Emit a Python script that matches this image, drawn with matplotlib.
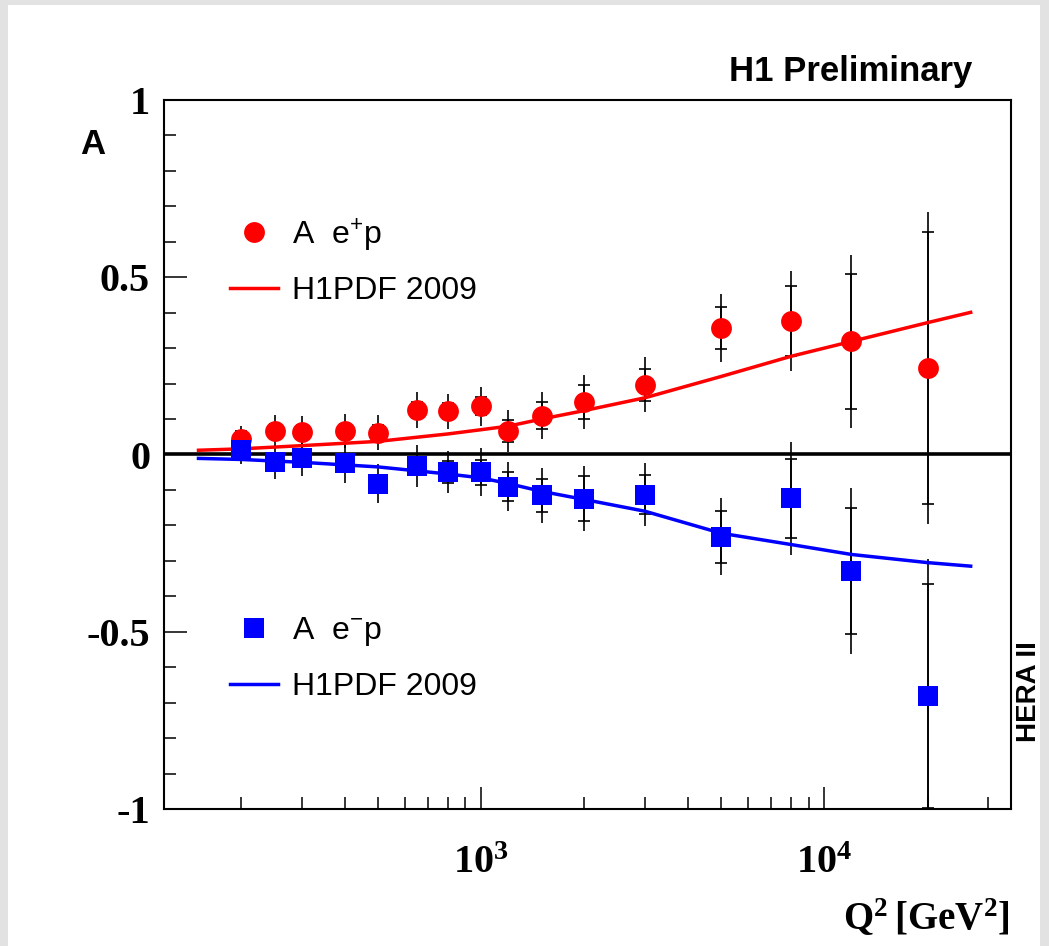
import numpy as np
import matplotlib
matplotlib.use("Agg")
import matplotlib.pyplot as plt
from matplotlib.patches import Rectangle
from matplotlib.ticker import LogLocator, FuncFormatter, MultipleLocator, NullFormatter

plt.rcParams['mathtext.fontset'] = 'custom'
plt.rcParams['mathtext.rm'] = 'Liberation Sans'
plt.rcParams['mathtext.bf'] = 'Liberation Serif:bold'
plt.rcParams['axes.unicode_minus'] = False

# measured points (Q2 in GeV^2)
q2 = [200, 250, 300, 400, 500, 650, 800, 1000, 1200, 1500, 2000, 3000, 5000, 8000, 12000, 20000]

# e+p asymmetry
pos_a = [0.045, 0.066, 0.063, 0.066, 0.062, 0.125, 0.122, 0.136, 0.066, 0.11, 0.148, 0.197, 0.357, 0.377, 0.319, 0.244]
pos_tot = [0.035, 0.045, 0.045, 0.047, 0.05, 0.05, 0.05, 0.055, 0.06, 0.065, 0.077, 0.077, 0.095, 0.142, 0.245, 0.44]
pos_stat = [0.02, 0.02, 0.02, 0.02, 0.02, 0.022, 0.022, 0.025, 0.03, 0.039, 0.047, 0.045, 0.06, 0.099, 0.19, 0.383]

# e-p asymmetry
neg_a = [0.014, -0.021, -0.011, -0.025, -0.082, -0.033, -0.049, -0.05, -0.091, -0.115, -0.125, -0.113, -0.232, -0.124, -0.329, -0.682]
neg_tot = [0.04, 0.047, 0.05, 0.054, 0.056, 0.06, 0.06, 0.067, 0.069, 0.078, 0.092, 0.09, 0.108, 0.16, 0.235, 0.386]
neg_stat = [0.02, 0.02, 0.02, 0.02, 0.02, 0.022, 0.031, 0.035, 0.041, 0.047, 0.063, 0.055, 0.073, 0.112, 0.177, 0.316]

# H1PDF 2009 predictions
curve_q2 = [150, 200, 300, 500, 800, 1000, 1200, 1500, 2000, 3000, 5000, 8000, 12000, 20000, 26700]
pos_curve = [0.012, 0.016, 0.025, 0.037, 0.058, 0.07, 0.08, 0.10, 0.124, 0.16, 0.22, 0.277, 0.319, 0.372, 0.401]
neg_curve = [-0.011, -0.014, -0.022, -0.035, -0.055, -0.066, -0.082, -0.104, -0.127, -0.16, -0.222, -0.254, -0.282, -0.305, -0.315]

yticks = [-1, -0.5, 0, 0.5, 1]
ytick_labels = ['-1', '-0.5', '0', '0.5', '1']

W, H = 1049, 946
fig = plt.figure(figsize=(W / 100, H / 100), dpi=100, facecolor='#e2e2e2')
fig.patches.append(Rectangle((8 / W, 0), (1040 - 8) / W, (H - 5) / H,
                             transform=fig.transFigure, facecolor='white',
                             edgecolor='none', zorder=-5))

ax = fig.add_axes([164 / W, 1 - 809 / H, (1011 - 164) / W, (809 - 100) / H])
ax.set_zorder(2)
ax.set_xscale('log')
ax.set_xlim(119, 35000)
ax.set_ylim(-1, 1)

ax.axhline(0, color='black', lw=2.6, zorder=1)

ax.errorbar(q2, pos_a, yerr=pos_tot, fmt='none', ecolor='black', elinewidth=1.2, capsize=0, zorder=2)
ax.errorbar(q2, pos_a, yerr=pos_stat, fmt='none', ecolor='black', elinewidth=1.2, capsize=4, capthick=1.2, zorder=2)
ax.errorbar(q2, neg_a, yerr=neg_tot, fmt='none', ecolor='black', elinewidth=1.2, capsize=0, zorder=2)
ax.errorbar(q2, neg_a, yerr=neg_stat, fmt='none', ecolor='black', elinewidth=1.2, capsize=4, capthick=1.2, zorder=2)

pos_pts, = ax.plot(q2, pos_a, 'o', color='#ff0000', markersize=15, markeredgewidth=0, zorder=3)
neg_pts, = ax.plot(q2, neg_a, 's', color='#0000ff', markersize=14, markeredgewidth=0, zorder=3)
pos_line, = ax.plot(curve_q2, pos_curve, color='#ff0000', lw=2.5, zorder=2.5)
neg_line, = ax.plot(curve_q2, neg_curve, color='#0000ff', lw=2.5, zorder=2.5)

# axes styling
for sp in ax.spines.values():
    sp.set_linewidth(1.5)
ax.set_yticks(yticks)
ax.set_yticklabels(ytick_labels)
ax.yaxis.set_minor_locator(MultipleLocator(0.1))
ax.xaxis.set_major_locator(LogLocator(base=10))
ax.xaxis.set_minor_locator(LogLocator(base=10, subs=np.arange(2, 10)))
ax.xaxis.set_major_formatter(FuncFormatter(lambda v, p: r'$\mathbf{10^{%d}}$' % round(np.log10(v))))
ax.xaxis.set_minor_formatter(NullFormatter())
ax.tick_params(which='both', direction='in', top=False, right=False, width=1.1)
ax.tick_params(axis='y', which='major', length=16.5, pad=10)
ax.tick_params(axis='y', which='minor', length=8.5)
ax.tick_params(axis='x', which='major', length=16, pad=24)
ax.tick_params(axis='x', which='minor', length=8.5)
for lab in ax.get_yticklabels():
    lab.set_fontfamily('Liberation Serif')
    lab.set_fontweight('bold')
    lab.set_fontsize(29)
for lab in ax.get_xticklabels():
    lab.set_fontsize(29)

leg1 = ax.legend([pos_pts, pos_line], [r'A  e$^{+}$p', 'H1PDF 2009'],
                 loc='upper left', bbox_to_anchor=((230 - 164) / 847, (809 - 216) / 709),
                 frameon=False, borderpad=0, borderaxespad=0, handlelength=1.5,
                 handletextpad=0.45, labelspacing=0.72,
                 prop={'family': 'Liberation Sans', 'size': 23})
ax.add_artist(leg1)
ax.legend([neg_pts, neg_line], [r'A  e$^{-}$p', 'H1PDF 2009'],
          loc='upper left', bbox_to_anchor=((230 - 164) / 847, (809 - 615) / 709),
          frameon=False, borderpad=0, borderaxespad=0, handlelength=1.5,
          handletextpad=0.45, labelspacing=0.76,
          prop={'family': 'Liberation Sans', 'size': 23})

fig.text(972 / W, 1 - 81 / H, 'H1 Preliminary', ha='right', va='baseline',
         fontfamily='Liberation Sans', fontweight='bold', fontsize=25)
fig.text(93 / W, 1 - 145 / H, 'A', ha='center', va='center',
         fontfamily='Liberation Sans', fontweight='bold', fontsize=25)
fig.text(1010 / W, 1 - 930 / H, r'$\mathbf{Q^{2}\,[GeV^{2}]}$', ha='right', va='baseline', fontsize=28)
fig.text(1029 / W, 1 - 692 / H, 'HERA II', rotation=90, ha='center', va='center',
         fontfamily='Liberation Sans', fontweight='bold', fontsize=20)

fig.savefig('out.png', dpi=100, facecolor=fig.get_facecolor())
